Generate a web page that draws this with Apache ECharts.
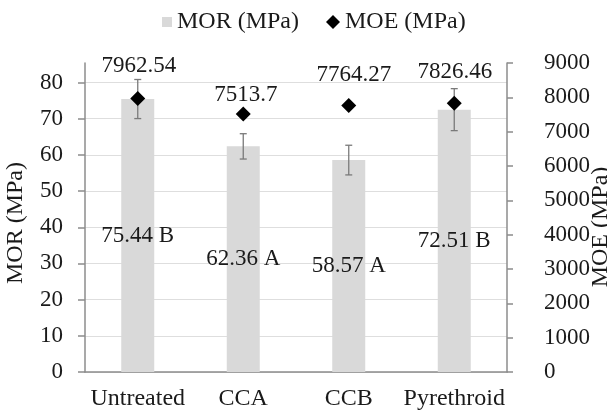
<!DOCTYPE html>
<html>
<head>
<meta charset="utf-8">
<script src="https://cdn.jsdelivr.net/npm/echarts@6/dist/echarts.min.js"></script>
<style>html,body{margin:0;padding:0;background:#fff}#c{width:607px;height:411px}</style>
</head>
<body>
<div id="c"></div>
<script>
const categories = ['Untreated', 'CCA', 'CCB', 'Pyrethroid'];
const morValues = [75.44, 62.36, 58.57, 72.51];
const morErrors = [5.4, 3.5, 4.1, 5.8];
const morGroups = ['B', 'A', 'A', 'B'];
const moeValues = [7962.54, 7513.7, 7764.27, 7826.46];
const morTicks = [0, 10, 20, 30, 40, 50, 60, 70, 80];
const moeTicks = [0, 1000, 2000, 3000, 4000, 5000, 6000, 7000, 8000, 9000];
// label placement (style only)
const moeLabelOffsets = [[1, -33], [2.5, -19], [5, -30.5], [0.5, -31.5]];

const FONT = 'Liberation Serif';
const TXT = '#1a1a1a';
const AXIS = '#8c8c8c';

const chart = echarts.init(document.getElementById('c'), null, {renderer: 'canvas'});
const errData = categories.map((c, i) => [i, morValues[i] - morErrors[i], morValues[i] + morErrors[i]]);
const txt = (size) => ({fontFamily: FONT, fontSize: size, color: TXT, opacity: 1});

chart.setOption({
  animation: false,
  backgroundColor: '#fff',
  textStyle: {fontFamily: FONT, color: TXT},
  grid: {left: 85, right: 100, top: 63, bottom: 39, containLabel: false, outerBoundsMode: 'none'},
  legend: [
    {data: ['MOR (MPa)'], left: 162, top: 10, padding: 0, icon: 'rect', itemWidth: 10, itemHeight: 10,
     textStyle: txt(24)},
    {data: ['MOE (MPa)'], left: 326, top: 10, padding: 0, icon: 'diamond', itemWidth: 14, itemHeight: 14,
     textStyle: txt(24)}
  ],
  xAxis: {
    type: 'category', data: categories, boundaryGap: true,
    axisLine: {lineStyle: {color: AXIS, width: 1.5}},
    axisTick: {show: false},
    axisLabel: Object.assign(txt(24), {margin: 15, interval: 0})
  },
  yAxis: [
    {
      type: 'value', min: 0, max: 85.4, interval: 10,
      name: 'MOR (MPa)', nameLocation: 'middle', nameGap: 57, nameRotate: 90, nameMoveOverlap: false,
      nameTextStyle: Object.assign(txt(24), {padding: [0, 11, 0, 0]}),
      axisLine: {show: true, lineStyle: {color: AXIS, width: 1.5}},
      axisTick: {show: true, length: 7, customValues: morTicks, lineStyle: {color: AXIS, width: 1.5}},
      axisLabel: Object.assign(txt(23), {margin: 22, align: 'right', customValues: morTicks, formatter: v => String(v)}),
      splitLine: {show: true, lineStyle: {color: '#dedede', width: 1}}
    },
    {
      type: 'value', min: 0, max: 9000, interval: 1000, position: 'right',
      name: 'MOE (MPa)', nameLocation: 'middle', nameGap: 82, nameRotate: 90, nameMoveOverlap: false,
      nameTextStyle: Object.assign(txt(24), {padding: [0, 19, 0, 0]}),
      axisLine: {show: true, lineStyle: {color: AXIS, width: 1.5}},
      axisTick: {show: true, length: 6, lineStyle: {color: AXIS, width: 1.5}},
      axisLabel: Object.assign(txt(23), {margin: 21, align: 'left', padding: [0, 0, 0, 16], formatter: v => String(v)}),
      splitLine: {show: false}
    }
  ],
  series: [
    {
      name: 'MOR (MPa)', type: 'bar', data: morValues, barWidth: 33, z: 2,
      itemStyle: {color: '#d9d9d9'},
      label: Object.assign(txt(23), {show: true, position: 'inside',
        formatter: p => morValues[p.dataIndex].toFixed(2) + ' ' + morGroups[p.dataIndex]})
    },
    {
      name: 'MOR error', type: 'custom', data: errData, z: 3,
      encode: {x: 0, y: [1, 2]},
      renderItem: function (params, api) {
        const i = api.value(0);
        const lo = api.coord([i, api.value(1)]);
        const hi = api.coord([i, api.value(2)]);
        const cap = 3.5;
        const style = {stroke: '#7a7a7a', lineWidth: 1.3};
        return {type: 'group', children: [
          {type: 'line', shape: {x1: lo[0], y1: lo[1], x2: hi[0], y2: hi[1]}, style: style},
          {type: 'line', shape: {x1: hi[0] - cap, y1: hi[1], x2: hi[0] + cap, y2: hi[1]}, style: style},
          {type: 'line', shape: {x1: lo[0] - cap, y1: lo[1], x2: lo[0] + cap, y2: lo[1]}, style: style}
        ]};
      }
    },
    {
      name: 'MOE (MPa)', type: 'scatter', yAxisIndex: 1, symbol: 'diamond', symbolSize: 15, z: 4,
      itemStyle: {color: '#000', opacity: 1},
      data: moeValues.map((v, i) => ({
        value: v,
        label: Object.assign(txt(23), {show: true, position: 'inside', offset: moeLabelOffsets[i],
          formatter: p => String(moeValues[p.dataIndex])})
      })),
      label: Object.assign(txt(23), {show: true, position: 'inside',
        formatter: p => String(moeValues[p.dataIndex])})
    }
  ]
});
</script>
</body>
</html>
